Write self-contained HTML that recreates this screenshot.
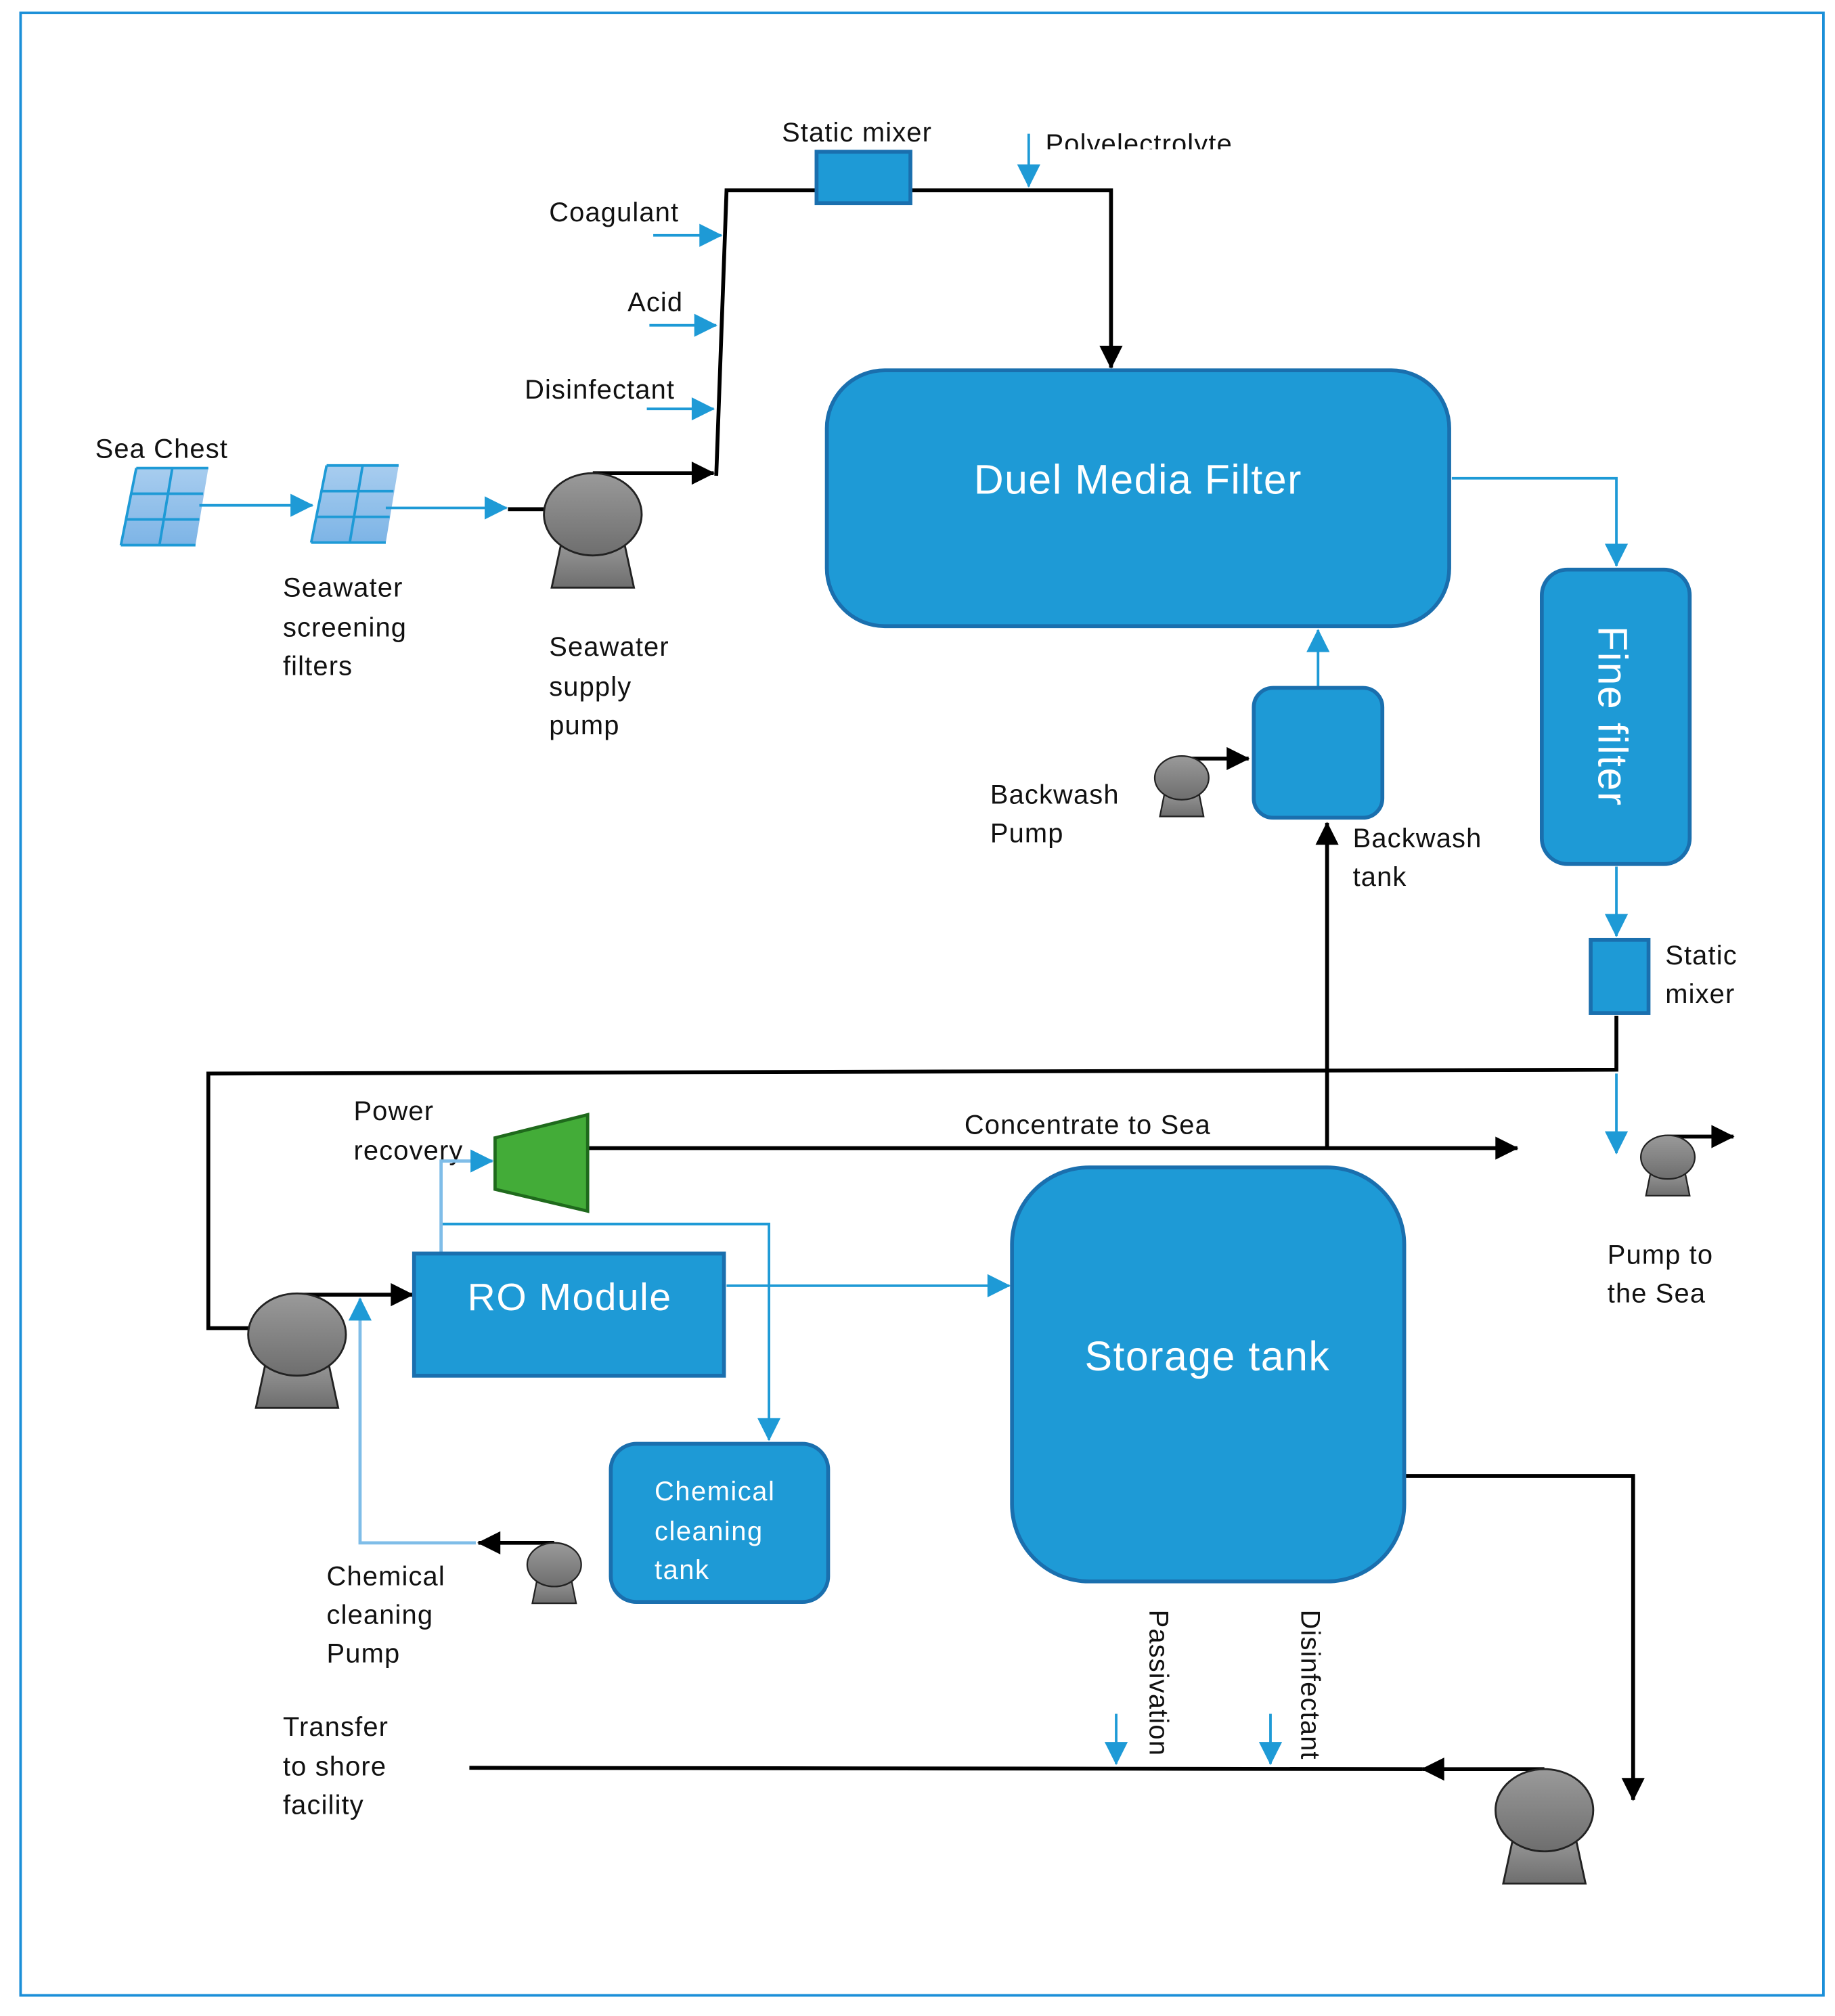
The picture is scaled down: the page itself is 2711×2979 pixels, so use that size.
<!DOCTYPE html>
<html><head><meta charset="utf-8"><style>html,body{margin:0;padding:0;background:#fff}svg{display:block}</style></head>
<body>
<svg width="2711" height="2979" viewBox="0 0 1427 1568" xmlns="http://www.w3.org/2000/svg" font-family="Liberation Sans, sans-serif">
<defs>
<marker id="ab" viewBox="0 0 10 10" refX="9" refY="5" markerWidth="9" markerHeight="9" orient="auto" markerUnits="userSpaceOnUse" style="overflow:visible"><path d="M-10,-5 L10,5 L-10,15 Z" fill="#1e9ad6"/></marker>
<marker id="ak" viewBox="0 0 10 10" refX="9" refY="5" markerWidth="9" markerHeight="9" orient="auto" markerUnits="userSpaceOnUse" style="overflow:visible"><path d="M-10,-5 L10,5 L-10,15 Z" fill="#000"/></marker>
<linearGradient id="pg" x1="0" y1="0" x2="0" y2="1"><stop offset="0" stop-color="#9a9a9a"/><stop offset="1" stop-color="#6e6e6e"/></linearGradient>
<linearGradient id="sg" x1="0" y1="0" x2="0" y2="1"><stop offset="0" stop-color="#a8cdef"/><stop offset="1" stop-color="#7db4e6"/></linearGradient>
<clipPath id="cp"><rect x="0" y="0" width="1427" height="116"/></clipPath>
<g id="pumpL"><path d="M-24,20 L24,20 L32,57 L-32,57 Z" fill="url(#pg)" stroke="#222" stroke-width="1.5"/><ellipse cx="0" cy="0" rx="38" ry="32" fill="url(#pg)" stroke="#222" stroke-width="1.5"/></g>
<g id="pumpS"><path d="M-13,10 L13,10 L17,30 L-17,30 Z" fill="url(#pg)" stroke="#222" stroke-width="1.2"/><ellipse cx="0" cy="0" rx="21" ry="17" fill="url(#pg)" stroke="#222" stroke-width="1.2"/></g>
<g id="scr"><path d="M10,0 L66,0 L56,60 L-2,60 Z" fill="url(#sg)"/><g stroke="#1e9ad6" stroke-width="2" fill="none"><path d="M10,0 L66,0 M6,20 L62,20 M2,40 L59,40 M-2,60 L56,60 M38,0 L28,60 M10,0 L-2,60"/></g></g>
</defs>
<rect x="16" y="10" width="1402" height="1542" fill="#fff" stroke="#1b8fd8" stroke-width="2"/>

<g font-size="21" fill="#111" letter-spacing="0.6">
<text x="74" y="356">Sea Chest</text>
<text x="220" y="464">Seawater</text><text x="220" y="495">screening</text><text x="220" y="525">filters</text>
<text x="427" y="510">Seawater</text><text x="427" y="541">supply</text><text x="427" y="571">pump</text>
<text x="608" y="110">Static mixer</text>
<text x="813" y="119" clip-path="url(#cp)">Polyelectrolyte</text>
<text x="427" y="172">Coagulant</text>
<text x="488" y="242">Acid</text>
<text x="408" y="310">Disinfectant</text>
<text x="770" y="625">Backwash</text><text x="770" y="655">Pump</text>
<text x="1052" y="659">Backwash</text><text x="1052" y="689">tank</text>
<text x="1295" y="750">Static</text><text x="1295" y="780">mixer</text>
<text x="275" y="871">Power</text><text x="275" y="902">recovery</text>
<text x="750" y="882">Concentrate to Sea</text>
<text x="1250" y="983">Pump to</text><text x="1250" y="1013">the Sea</text>
<text x="254" y="1233">Chemical</text><text x="254" y="1263">cleaning</text><text x="254" y="1293">Pump</text>
<text x="220" y="1350">Transfer</text><text x="220" y="1381">to shore</text><text x="220" y="1411">facility</text>
<text transform="translate(894,1252) rotate(90)">Passivation</text>
<text transform="translate(1012,1252) rotate(90)">Disinfectant</text>
</g>

<use href="#scr" x="96" y="364"/>
<use href="#scr" x="244" y="362"/>
<g stroke="#1e9ad6" stroke-width="2" fill="none">
<line x1="155" y1="393" x2="243" y2="393" marker-end="url(#ab)"/>
<line x1="300" y1="395" x2="394" y2="395" marker-end="url(#ab)"/>
<line x1="508" y1="183" x2="561" y2="183" marker-end="url(#ab)"/>
<line x1="505" y1="253" x2="557" y2="253" marker-end="url(#ab)"/>
<line x1="503" y1="318" x2="555" y2="318" marker-end="url(#ab)"/>
<line x1="800" y1="104" x2="800" y2="145" marker-end="url(#ab)"/>
<polyline points="1129,372 1257,372 1257,440" marker-end="url(#ab)"/>
<line x1="1257" y1="674" x2="1257" y2="728" marker-end="url(#ab)"/>
<line x1="1257" y1="835" x2="1257" y2="897" marker-end="url(#ab)"/>
<line x1="1025" y1="535" x2="1025" y2="490" marker-end="url(#ab)"/>
<polyline points="343,952 598,952 598,1120" marker-end="url(#ab)"/>
<line x1="565" y1="1000" x2="785" y2="1000" marker-end="url(#ab)"/>
<line x1="868" y1="1333" x2="868" y2="1372" marker-end="url(#ab)"/>
<line x1="988" y1="1333" x2="988" y2="1372" marker-end="url(#ab)"/>
</g>
<g stroke="#7fbde8" stroke-width="2.5" fill="none">
<polyline points="343,975 343,903 383,903" marker-end="url(#ab)"/>
<polyline points="370,1200 280,1200 280,1010" marker-end="url(#ab)"/>
</g>
<g stroke="#000" stroke-width="3" fill="none">
<line x1="395" y1="396" x2="424" y2="396"/>
<line x1="461" y1="368" x2="555" y2="368" marker-end="url(#ak)"/>
<polyline points="557,370 565,148 636,148"/>
<polyline points="708,148 864,148 864,286" marker-end="url(#ak)"/>
<polyline points="1257,790 1257,832 162,835 162,1033 195,1033"/>
<line x1="1297" y1="884" x2="1348" y2="884" marker-end="url(#ak)"/>
<line x1="919" y1="590" x2="971" y2="590" marker-end="url(#ak)"/>
<line x1="1032" y1="893" x2="1032" y2="640" marker-end="url(#ak)"/>
<line x1="457" y1="893" x2="1180" y2="893" marker-end="url(#ak)"/>
<line x1="231" y1="1007" x2="321" y2="1007" marker-end="url(#ak)"/>
<line x1="431" y1="1200" x2="372" y2="1200" marker-end="url(#ak)"/>
<polyline points="1092,1148 1270,1148 1270,1400" marker-end="url(#ak)"/>
<line x1="1201" y1="1376" x2="1106" y2="1376" marker-end="url(#ak)"/>
<line x1="1106" y1="1376" x2="365" y2="1375"/>
</g>

<use href="#pumpL" x="461" y="400"/>
<use href="#pumpL" x="231" y="1038"/>
<use href="#pumpL" x="1201" y="1408"/>
<use href="#pumpS" x="919" y="605"/>
<use href="#pumpS" x="1297" y="900"/>
<use href="#pumpS" x="431" y="1217"/>

<g fill="#1e9ad6" stroke="#1a6fae" stroke-width="3">
<rect x="635" y="118" width="73" height="40"/>
<rect x="643" y="288" width="484" height="199" rx="45"/>
<rect x="1199" y="443" width="115" height="229" rx="20"/>
<rect x="975" y="535" width="100" height="101" rx="15"/>
<rect x="1237" y="731" width="45" height="57"/>
<rect x="322" y="975" width="241" height="95"/>
<rect x="787" y="908" width="305" height="322" rx="60"/>
<rect x="475" y="1123" width="169" height="123" rx="20"/>
</g>
<path d="M385,885 L457,867 L457,942 L385,925 Z" fill="#43ac38" stroke="#1f6a1c" stroke-width="2.5"/>

<g fill="#fff" letter-spacing="0.8">
<text x="885" y="384" font-size="32" text-anchor="middle">Duel Media Filter</text>
<text transform="translate(1243,557) rotate(90)" font-size="32" text-anchor="middle">Fine filter</text>
<text x="443" y="1019" font-size="30" text-anchor="middle">RO Module</text>
<text x="939" y="1066" font-size="32" text-anchor="middle">Storage tank</text>
<text x="509" y="1167" font-size="21">Chemical</text>
<text x="509" y="1198" font-size="21">cleaning</text>
<text x="509" y="1228" font-size="21">tank</text>
</g>
</svg>
</body></html>
